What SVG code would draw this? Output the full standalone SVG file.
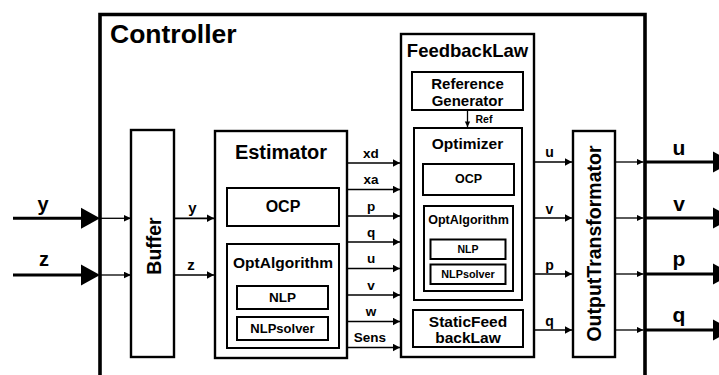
<svg xmlns="http://www.w3.org/2000/svg" width="719" height="375" viewBox="0 0 719 375">
  <style>
    .t { font-family: "Liberation Sans", Arial, Helvetica, sans-serif; font-weight: bold; fill: #000; }
    .m { text-anchor: middle; }
    .box { fill: #fff; stroke: #000; stroke-width: 2.4; }
    .inner { fill: #fff; stroke: #000; stroke-width: 2; }
    .thick { fill: none; stroke: #000; stroke-width: 3; }
    .thin { fill: none; stroke: #000; stroke-width: 1.7; marker-end: url(#arr); }
    .hair { fill: none; stroke: #000; stroke-width: 1.3; marker-end: url(#arrS); }
    .big { fill: #000; }
  </style>
  <defs>
    <marker id="arr" markerUnits="userSpaceOnUse" markerWidth="8" markerHeight="9" refX="7.5" refY="4" orient="auto">
      <path d="M0,0 L7.5,4 L0,8 z" fill="#000"/>
    </marker>
    <marker id="arrS" markerUnits="userSpaceOnUse" markerWidth="8" markerHeight="8" refX="7" refY="3.3" orient="auto">
      <path d="M0,0 L7,3.3 L0,6.6 z" fill="#000"/>
    </marker>
  </defs>

  <rect width="719" height="375" fill="#fff"/>

  <!-- Controller frame (open at the bottom) -->
  <g id="controller">
    <path d="M100,380 V14.5 H645 V380" fill="none" stroke="#000" stroke-width="3.6"/>
    <text class="t" x="110" y="43" font-size="26.5">Controller</text>
  </g>

  <g id="buffer">
    <rect class="box" x="131" y="130" width="43" height="227"/>
    <text class="t m" font-size="19.5" transform="translate(161,246) rotate(-90)">Buffer</text>
  </g>

  <g id="estimator">
    <rect class="box" x="215" y="131" width="132" height="227" stroke-width="2.8"/>
    <text class="t m" x="281" y="159" font-size="20">Estimator</text>
    <g id="est-ocp">
      <rect class="inner" x="227" y="188" width="112" height="38" stroke-width="2.4"/>
      <text class="t m" x="283" y="212" font-size="16">OCP</text>
    </g>
    <g id="est-optalgorithm">
      <rect class="inner" x="227" y="244" width="112" height="104" stroke-width="2.4"/>
      <text class="t m" x="283" y="267.5" font-size="15.5">OptAlgorithm</text>
      <g id="est-nlp">
        <rect class="inner" x="237" y="286" width="91" height="23"/>
        <text class="t m" x="282.5" y="301.5" font-size="13.5">NLP</text>
      </g>
      <g id="est-nlpsolver">
        <rect class="inner" x="237" y="317" width="91" height="23"/>
        <text class="t m" x="282.5" y="332.5" font-size="13">NLPsolver</text>
      </g>
    </g>
  </g>

  <g id="feedbacklaw">
    <rect class="box" x="401" y="34" width="133" height="323" stroke-width="3"/>
    <text class="t m" x="467.5" y="57" font-size="18.5">FeedbackLaw</text>
    <g id="reference-generator">
      <rect class="inner" x="412" y="72" width="111" height="38" stroke-width="2.2"/>
      <text class="t m" x="467.5" y="89" font-size="15">Reference</text>
      <text class="t m" x="467.5" y="105.5" font-size="15">Generator</text>
    </g>
    <g id="optimizer">
      <rect class="inner" x="414" y="128" width="108" height="172" stroke-width="2.2"/>
      <text class="t m" x="467.5" y="149" font-size="15.5">Optimizer</text>
      <g id="opt-ocp">
        <rect class="inner" x="423" y="164" width="91" height="31"/>
        <text class="t m" x="468.5" y="183" font-size="12.5">OCP</text>
      </g>
      <g id="opt-optalgorithm">
        <rect class="inner" x="424" y="206" width="89" height="85"/>
        <text class="t m" x="468.5" y="223.5" font-size="12.5">OptAlgorithm</text>
        <g id="opt-nlp">
          <rect class="inner" x="430.5" y="239.5" width="75" height="19.5" stroke-width="1.8"/>
          <text class="t m" x="468" y="252.5" font-size="10.5">NLP</text>
        </g>
        <g id="opt-nlpsolver">
          <rect class="inner" x="430.5" y="264.5" width="75" height="19.5" stroke-width="1.8"/>
          <text class="t m" x="468" y="277.5" font-size="10.8">NLPsolver</text>
        </g>
      </g>
    </g>
    <g id="static-feedback-law">
      <rect class="inner" x="413" y="310" width="110" height="37" stroke-width="2.2"/>
      <text class="t m" x="468" y="327" font-size="15.5">StaticFeed</text>
      <text class="t m" x="468" y="343" font-size="15.5">backLaw</text>
    </g>
  </g>

  <g id="output-transformator">
    <rect class="box" x="573" y="131" width="42" height="226"/>
    <text class="t m" font-size="19.5" transform="translate(601,243.5) rotate(-90)">OutputTransformator</text>
  </g>

  <g id="connectors">
    <!-- plant measurements entering the controller -->
    <line class="thick" x1="13" y1="218.3" x2="82" y2="218.3"/>
    <polygon class="big" points="81,207.8 100,218.3 81,228.8"/>
    <line class="thick" x1="13" y1="275" x2="82" y2="275"/>
    <polygon class="big" points="81,264.5 100,275 81,285.5"/>
    <text class="t m" x="43" y="210.5" font-size="20">y</text>
    <text class="t m" x="44" y="266" font-size="20">z</text>
    <line class="hair" x1="100" y1="218.3" x2="131" y2="218.3"/>
    <line class="hair" x1="100" y1="275" x2="131" y2="275"/>

    <!-- Buffer to Estimator -->
    <line class="thin" x1="174" y1="218.3" x2="214" y2="218.3"/>
    <line class="thin" x1="174" y1="275" x2="214" y2="275"/>
    <text class="t m" x="192.5" y="213" font-size="15">y</text>
    <text class="t m" x="191" y="270" font-size="15">z</text>

    <!-- Estimator to FeedbackLaw -->
    <g font-size="13.5">
      <line class="thin" x1="347" y1="163" x2="400" y2="163"/>
      <text class="t m" x="371" y="157.5">xd</text>
      <line class="thin" x1="347" y1="189.5" x2="400" y2="189.5"/>
      <text class="t m" x="371" y="184">xa</text>
      <line class="thin" x1="347" y1="216" x2="400" y2="216"/>
      <text class="t m" x="371" y="210.5">p</text>
      <line class="thin" x1="347" y1="242" x2="400" y2="242"/>
      <text class="t m" x="371" y="236.5">q</text>
      <line class="thin" x1="347" y1="268.5" x2="400" y2="268.5"/>
      <text class="t m" x="371" y="263">u</text>
      <line class="thin" x1="347" y1="295" x2="400" y2="295"/>
      <text class="t m" x="371" y="289.5">v</text>
      <line class="thin" x1="347" y1="321.5" x2="400" y2="321.5"/>
      <text class="t m" x="371" y="316">w</text>
      <line class="thin" x1="347" y1="347.5" x2="400" y2="347.5"/>
      <text class="t m" x="370" y="342">Sens</text>
    </g>

    <!-- Reference Generator to Optimizer -->
    <line x1="467.5" y1="110" x2="467.5" y2="127" stroke="#000" stroke-width="1.3"/>
    <path d="M464.8,121.5 L470.2,121.5 L467.5,127 z" fill="#000"/>
    <text class="t" x="475.5" y="122.5" font-size="10.5">Ref</text>

    <!-- FeedbackLaw to OutputTransformator -->
    <g font-size="14">
      <line class="thin" x1="534" y1="162" x2="572" y2="162"/>
      <text class="t m" x="549.5" y="157">u</text>
      <line class="thin" x1="534" y1="218" x2="572" y2="218"/>
      <text class="t m" x="549.5" y="213.5">v</text>
      <line class="thin" x1="534" y1="274" x2="572" y2="274"/>
      <text class="t m" x="549.5" y="269.5">p</text>
      <line class="thin" x1="534" y1="330" x2="572" y2="330"/>
      <text class="t m" x="549.5" y="325.5">q</text>
    </g>

    <!-- OutputTransformator to controller boundary -->
    <line class="hair" x1="615" y1="162" x2="643.5" y2="162"/>
    <line class="hair" x1="615" y1="218" x2="643.5" y2="218"/>
    <line class="hair" x1="615" y1="274" x2="643.5" y2="274"/>
    <line class="hair" x1="615" y1="330" x2="643.5" y2="330"/>

    <!-- controller outputs to the plant -->
    <g font-size="21">
      <line class="thick" x1="645" y1="162" x2="714" y2="162"/>
      <polygon class="big" points="713,151.5 732,162 713,172.5"/>
      <text class="t m" x="679" y="155">u</text>
      <line class="thick" x1="645" y1="218" x2="714" y2="218"/>
      <polygon class="big" points="713,207.5 732,218 713,228.5"/>
      <text class="t m" x="679" y="211">v</text>
      <line class="thick" x1="645" y1="274" x2="714" y2="274"/>
      <polygon class="big" points="713,263.5 732,274 713,284.5"/>
      <text class="t m" x="679" y="266">p</text>
      <line class="thick" x1="645" y1="330" x2="714" y2="330"/>
      <polygon class="big" points="713,319.5 732,330 713,340.5"/>
      <text class="t m" x="679" y="322">q</text>
    </g>
  </g>
</svg>
